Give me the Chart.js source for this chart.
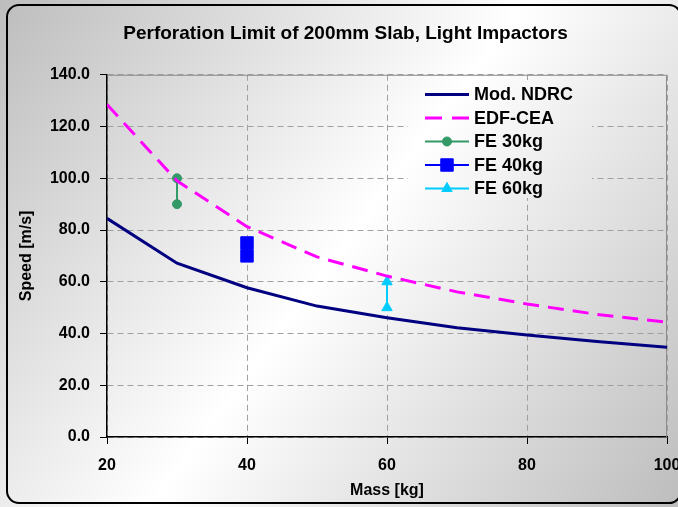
<!DOCTYPE html>
<html>
<head>
<meta charset="utf-8">
<script src="https://cdn.jsdelivr.net/npm/chart.js@4.4.0/dist/chart.umd.min.js"></script>
<style>
  html, body { margin: 0; padding: 0; overflow: hidden; background: #fff; }
</style>
</head>
<body>
<canvas id="chart" width="678" height="507"></canvas>
<script>
// values
const masses = [20, 30, 40, 50, 60, 70, 80, 90, 100];
const ndrcSpeeds = [84.5, 67.2, 57.7, 50.6, 46.1, 42.2, 39.4, 36.9, 34.7];
const edfSpeeds = [128.5, 99.0, 81.3, 69.6, 62.2, 56.1, 51.4, 47.4, 44.4];
const fe30Mass = [30, 30];
const fe30Speeds = [100, 90];
const fe40Mass = [40, 40];
const fe40Speeds = [75, 70];
const fe60Mass = [60, 60];
const fe60Speeds = [60, 50];
const xTicks = [20, 40, 60, 80, 100];
const yTicks = [0, 20, 40, 60, 80, 100, 120, 140];

const FONT = "'Liberation Sans', Arial, sans-serif";
const toPoints = (xs, ys) => xs.map((x, i) => ({ x: x, y: ys[i] }));

let bgGradient = null;
function getGradient(ctx, w, h) {
  if (!bgGradient) {
    bgGradient = ctx.createLinearGradient(0, 0, w, h);
    bgGradient.addColorStop(0, '#bdbdbd');
    bgGradient.addColorStop(0.5, '#ffffff');
    bgGradient.addColorStop(1, '#bdbdbd');
  }
  return bgGradient;
}

const backgroundPlugin = {
  id: 'background',
  beforeDraw(chart) {
    const ctx = chart.ctx;
    ctx.save();
    ctx.fillStyle = getGradient(ctx, chart.width, chart.height);
    ctx.fillRect(0, 0, chart.width, chart.height);
    ctx.restore();
  },
  beforeDatasetsDraw(chart) {
    // grey frame on top and right of the plot
    const { left, right, top, bottom } = chart.chartArea;
    const ctx = chart.ctx;
    ctx.save();
    ctx.strokeStyle = '#8c8c8c';
    ctx.lineWidth = 1;
    ctx.beginPath();
    ctx.moveTo(left, top + 0.5);
    ctx.lineTo(right - 0.5, top + 0.5);
    ctx.lineTo(right - 0.5, bottom);
    ctx.stroke();
    ctx.restore();
  },
  afterDraw(chart) {
    const ctx = chart.ctx;
    ctx.save();
    ctx.strokeStyle = '#000';
    ctx.lineWidth = 2;
    ctx.beginPath();
    ctx.roundRect(7, 5, 674, 498, 12);
    ctx.stroke();
    ctx.restore();
  }
};

const legendItems = [
  { text: 'Mod. NDRC', color: '#000080', width: 3, dash: [] },
  { text: 'EDF-CEA', color: '#ff00ff', width: 3, dash: [17, 10] },
  { text: 'FE 30kg', color: '#339966', width: 2, dash: [], style: 'circle', radius: 4.5 },
  { text: 'FE 40kg', color: '#0000ff', width: 2, dash: [], style: 'rect', radius: 8.8 },
  { text: 'FE 60kg', color: '#00ccff', width: 2, dash: [], style: 'triangle', radius: 6 }
];

const legendPlugin = {
  id: 'insideLegend',
  afterDraw(chart) {
    const ctx = chart.ctx;
    ctx.save();
    ctx.fillStyle = getGradient(ctx, chart.width, chart.height);
    ctx.fillRect(408, 80, 184, 118);
    legendItems.forEach((item, i) => {
      const y = 94.5 + i * 23.5;
      ctx.strokeStyle = item.color;
      ctx.lineWidth = item.width;
      ctx.setLineDash(item.dash);
      ctx.beginPath();
      ctx.moveTo(425, y);
      ctx.lineTo(469, y);
      ctx.stroke();
      ctx.setLineDash([]);
      if (item.style) {
        ctx.fillStyle = item.color;
        ctx.lineWidth = 1;
        Chart.helpers.drawPoint(ctx, { pointStyle: item.style, radius: item.radius, rotation: 0, borderWidth: 1 }, 447, y);
      }
      ctx.fillStyle = '#000';
      ctx.font = 'bold 18px ' + FONT;
      ctx.textBaseline = 'middle';
      ctx.textAlign = 'left';
      ctx.fillText(item.text, 474, y + 1);
    });
    ctx.restore();
  }
};

new Chart(document.getElementById('chart'), {
  type: 'line',
  data: {
    datasets: [
      {
        label: 'Mod. NDRC',
        data: toPoints(masses, ndrcSpeeds),
        borderColor: '#000080',
        borderWidth: 3,
        pointRadius: 0,
        tension: 0
      },
      {
        label: 'EDF-CEA',
        data: toPoints(masses, edfSpeeds),
        borderColor: '#ff00ff',
        borderWidth: 3,
        borderDash: [16, 9],
        pointRadius: 0,
        tension: 0
      },
      {
        label: 'FE 30kg',
        data: toPoints(fe30Mass, fe30Speeds),
        borderColor: '#339966',
        backgroundColor: '#339966',
        borderWidth: 2,
        pointStyle: 'circle',
        pointRadius: 4.5,
        pointBorderWidth: 1
      },
      {
        label: 'FE 40kg',
        data: toPoints(fe40Mass, fe40Speeds),
        borderColor: '#0000ff',
        backgroundColor: '#0000ff',
        borderWidth: 2,
        pointStyle: 'rect',
        pointRadius: 8.8,
        pointBorderWidth: 1
      },
      {
        label: 'FE 60kg',
        data: toPoints(fe60Mass, fe60Speeds),
        borderColor: '#00ccff',
        backgroundColor: '#00ccff',
        borderWidth: 2,
        pointStyle: 'triangle',
        pointRadius: 6,
        pointBorderWidth: 1
      }
    ]
  },
  options: {
    responsive: false,
    animation: false,
    layout: { padding: { left: 24, right: 11, top: 0, bottom: 0 } },
    plugins: {
      legend: { display: false },
      tooltip: { enabled: false },
      title: {
        display: true,
        text: 'Perforation Limit of 200mm Slab, Light Impactors',
        color: '#000',
        font: { family: FONT, size: 19, weight: 'bold' },
        padding: { top: 22, bottom: 30 }
      }
    },
    scales: {
      x: {
        type: 'linear',
        min: 20,
        max: 100,
        afterBuildTicks: (scale) => { scale.ticks = xTicks.map(v => ({ value: v })); },
        afterFit: (scale) => { scale.height = 70; scale.paddingLeft = 0; scale.paddingRight = 0; },
        ticks: { color: '#000', padding: 12, maxRotation: 0, font: { family: FONT, size: 16, weight: 'bold' } },
        grid: { color: '#a0a0a0', tickColor: '#000', tickLength: 7, tickBorderDash: [] },
        border: { color: '#000', width: 1.5, dash: [6, 4] },
        title: {
          display: true,
          text: 'Mass [kg]',
          color: '#000',
          font: { family: FONT, size: 16, weight: 'bold' },
          padding: { top: 0, bottom: 7 }
        }
      },
      y: {
        min: 0,
        max: 140,
        afterBuildTicks: (scale) => { scale.ticks = yTicks.map(v => ({ value: v })); },
        afterFit: (scale) => { scale.width = 83; scale.paddingTop = 0; scale.paddingBottom = 0; },
        ticks: {
          color: '#000',
          padding: 10,
          callback: (v) => v.toFixed(1),
          font: { family: FONT, size: 16, weight: 'bold' }
        },
        grid: { color: '#a0a0a0', tickColor: '#000', tickLength: 7, tickBorderDash: [] },
        border: { color: '#000', width: 1.5, dash: [6, 4] },
        title: {
          display: true,
          text: 'Speed [m/s]',
          color: '#000',
          font: { family: FONT, size: 16, weight: 'bold' },
          padding: { top: -7, bottom: 0 }
        }
      }
    }
  },
  plugins: [backgroundPlugin, legendPlugin]
});
</script>
</body>
</html>
